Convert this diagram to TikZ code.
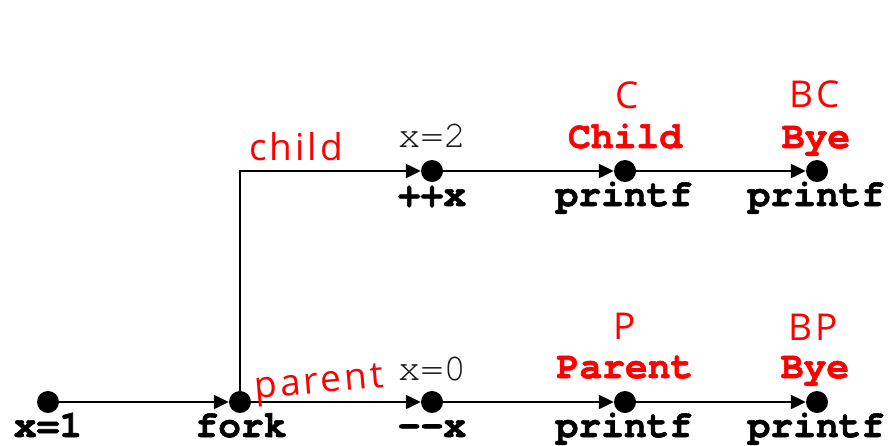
\documentclass[tikz,border=0pt]{standalone}
\usepackage{fontspec}
\setmonofont{TeX Gyre Cursor}[BoldFeatures={FakeBold=1.6}]
\newfontfamily\hand{Open Sans}[LetterSpace=8]
\usetikzlibrary{arrows.meta}
\begin{document}
\begin{tikzpicture}[x=1pt,y=-1pt,
  dot/.style={circle,fill=black,inner sep=0pt,minimum size=22pt},
  arr/.style={line width=2.3pt,-{Triangle[length=15pt,width=14pt]}},
  lab/.style={font=\ttfamily\bfseries\fontsize{38}{38}\selectfont,anchor=base,inner sep=0pt},
  val/.style={font=\ttfamily\fontsize{38}{38}\selectfont,anchor=base,inner sep=0pt,text=black!90},
  msg/.style={lab,text=red},
  hw/.style={font=\hand\fontsize{37}{37}\selectfont,text=red,anchor=base,inner sep=0pt}]
\useasboundingbox (0,0) rectangle (888,445);
% dots
\node[dot] (x1) at (48,402) {};
\node[dot] (fork) at (240,402) {};
\node[dot] (dec) at (432,402) {};
\node[dot] (pp) at (625,402) {};
\node[dot] (pb) at (817,402) {};
\node[dot] (inc) at (432,171) {};
\node[dot] (cp) at (625,171) {};
\node[dot] (cb) at (817,171) {};
% connectors
\draw[arr] (x1) -- (fork);
\draw[arr] (fork) -- (dec);
\draw[arr] (dec) -- (pp);
\draw[arr] (pp) -- (pb);
\draw[arr] (fork.north) |- (inc);
\draw[arr] (inc) -- (cp);
\draw[arr] (cp) -- (cb);
% labels below
\node[lab] (lx1) at (48,437) {x=1};
\node[lab] (lfork) at (241,437) {fork};
\node[lab] (ldec) at (432,437) {-{}-x};
\node[lab] (lpp) at (624,437) {printf};
\node[lab] (lpb) at (816,437) {printf};
\node[lab] (linc) at (432,206) {++x};
\node[lab] (lcp) at (624,206) {printf};
\node[lab] (lcb) at (816,206) {printf};
% values
\node[val] (v2) at (432,147) {x=2};
\node[val] (v0) at (432,380) {x=0};
% messages
\node[msg] (mc) at (625,148) {Child};
\node[msg] (mcb) at (816,148) {Bye};
\node[msg] (mp) at (625,378) {Parent};
\node[msg] (mpb) at (815,378) {Bye};
% handwritten
\node[hw] (hchild) at (296,160) {child};
\node[hw,rotate=5] (hparent) at (320,393) {parent};
\node[hw] (hc) at (627,108) {C};
\node[hw] (hbc) at (815,107) {BC};
\node[hw] (hp) at (625,339) {P};
\node[hw] (hbp) at (813,340) {BP};
\end{tikzpicture}
\end{document}
